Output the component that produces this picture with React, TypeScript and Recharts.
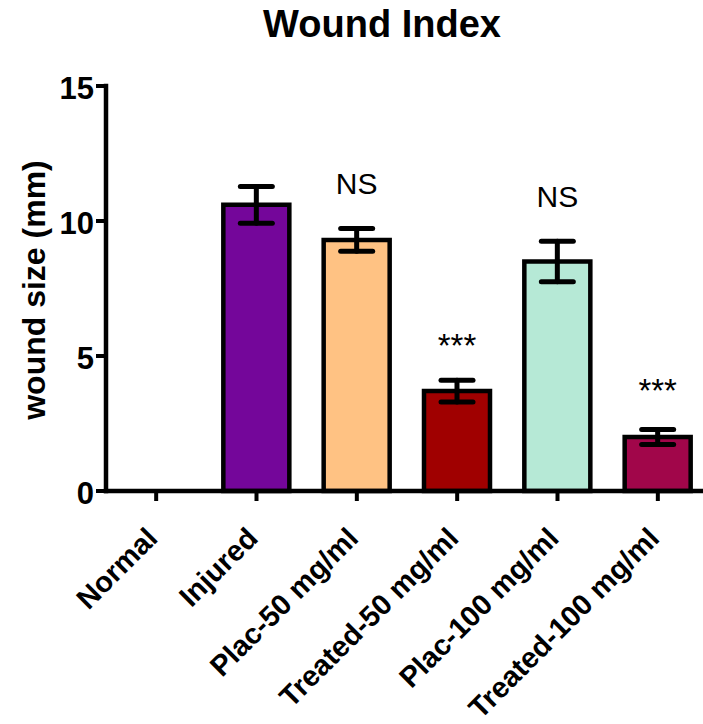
import React from 'react'
import { BarChart, Bar, XAxis, YAxis, ErrorBar, Cell, LabelList } from 'recharts'

const groups = ['Normal', 'Injured', 'Plac-50 mg/ml', 'Treated-50 mg/ml', 'Plac-100 mg/ml', 'Treated-100 mg/ml']
const woundSize = [null, 10.6, 9.3, 3.7, 8.5, 2.0]
const woundErr = [null, 0.68, 0.42, 0.4, 0.75, 0.28]
const signif = ['', '', 'NS', '***', 'NS', '***']
const barColors = ['#ffffff', '#74069a', '#ffc283', '#a00000', '#b6e9d6', '#a1064a']
const yTicks = [0, 5, 10, 15]

const FONT = '"Liberation Sans", Arial, sans-serif'

const chartData = groups.map((g, i) => ({
  group: g,
  size: woundSize[i],
  err: woundErr[i],
  sig: signif[i],
}))

const XTick = ({ x, y, payload }: any) => {
  const tx = x + 3
  const ty = y + 37
  return (
    <text
      x={tx}
      y={ty}
      transform={`rotate(-45 ${tx} ${ty})`}
      textAnchor="end"
      fontFamily={FONT}
      fontWeight="bold"
      fontSize={29}
      fill="#000"
    >
      {payload.value}
    </text>
  )
}

const SigLabel = (props: any) => {
  const { x, y, width, height, value, index } = props
  if (!value) return null
  const v = woundSize[index] as number
  const e = woundErr[index] as number
  const pxPerUnit = height / v // take the scale from the bar itself
  const top = y - e * pxPerUnit
  return (
    <text
      x={x + width / 2}
      y={top - 30}
      textAnchor="middle"
      fontFamily={FONT}
      fontSize={value === 'NS' ? 30 : 33}
      fill="#000"
    >
      {value}
    </text>
  )
}

export default function App() {
  return (
    <div style={{ position: 'fixed', top: 0, left: 0, width: 703, height: 724, overflow: 'hidden', background: '#fff' }}>
      <BarChart
        width={720}
        height={724}
        data={chartData}
        margin={{ top: 86, right: 12, left: 0, bottom: 33 }}
        barCategoryGap={0}
      >
        <XAxis
          dataKey="group"
          height={200}
          interval={0}
          tickSize={10}
          axisLine={{ stroke: '#000', strokeWidth: 4.5, strokeLinecap: 'square' }}
          tickLine={{ stroke: '#000', strokeWidth: 4 }}
          tick={<XTick />}
        />
        <YAxis
          width={106}
          domain={[0, 15]}
          ticks={yTicks}
          tickSize={10}
          tickMargin={2}
          axisLine={{ stroke: '#000', strokeWidth: 4.5, strokeLinecap: 'square' }}
          tickLine={{ stroke: '#000', strokeWidth: 4 }}
          tick={{ fontFamily: FONT, fontWeight: 'bold', fontSize: 31, fill: '#000', dy: 2 }}
        />
        <Bar dataKey="size" barSize={66} stroke="#000" strokeWidth={4.5} isAnimationActive={false}>
          {chartData.map((d, i) => (
            <Cell key={d.group} fill={barColors[i]} />
          ))}
          <ErrorBar dataKey="err" width={16} stroke="#000" strokeWidth={5} strokeLinecap="round" isAnimationActive={false} />
          <LabelList dataKey="sig" content={<SigLabel />} />
        </Bar>
      </BarChart>
      <svg width={703} height={724} style={{ position: 'absolute', top: 0, left: 0, pointerEvents: 'none' }}>
        <text x={382} y={37} textAnchor="middle" fontFamily={FONT} fontWeight="bold" fontSize={38} fill="#000">
          Wound Index
        </text>
        <text
          x={45}
          y={290}
          transform="rotate(-90 45 290)"
          textAnchor="middle"
          fontFamily={FONT}
          fontWeight="bold"
          fontSize={32}
          fill="#000"
        >
          wound size (mm)
        </text>
      </svg>
    </div>
  )
}
